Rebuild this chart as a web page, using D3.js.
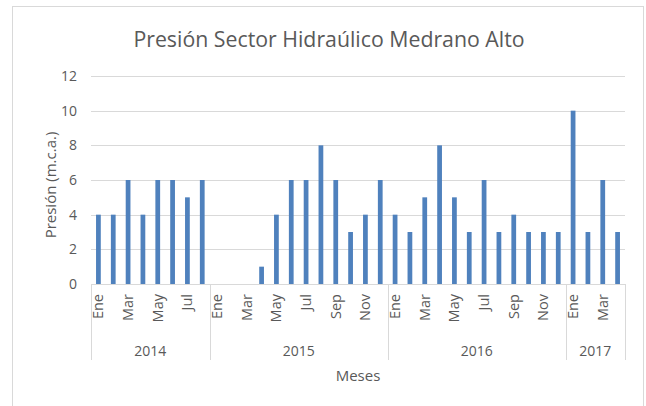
<!DOCTYPE html>
<html>
<head>
<meta charset="utf-8">
<script src="https://cdn.jsdelivr.net/npm/d3@7"></script>
<style>
  body { margin: 0; background: #fff; }
  svg { display: block; font-family: 'Open Sans', sans-serif; }
  .tick-label, .month, .year, .axis-title, .title { fill: #595959; }
</style>
</head>
<body>
<svg width="646" height="406"></svg>
<script>
(function () {

const years = ['2014', '2015', '2016', '2017'];
const monthNames = ['Ene', 'Feb', 'Mar', 'Abr', 'May', 'Jun', 'Jul', 'Ago', 'Sep', 'Oct', 'Nov', 'Dic'];
const presion2014 = [4, 4, 6, 4, 6, 6, 5, 6];
const presion2015 = [0, 0, 0, 1, 4, 6, 6, 8, 6, 3, 4, 6];
const presion2016 = [4, 3, 5, 8, 5, 3, 6, 3, 4, 3, 3, 3];
const presion2017 = [10, 3, 6, 3];
const yTicks = [0, 2, 4, 6, 8, 10, 12];

const barColor = '#4f81bd',
    gridColor = '#d9d9d9';

// flatten into one row per month
const series = [presion2014, presion2015, presion2016, presion2017];
const data = [];
series.forEach(function(vals, yi) {
  vals.forEach(function(v, mi) {
    data.push({id: data.length, year: years[yi], month: monthNames[mi], value: v});
  });
});

const svg = d3.select('svg'),
    margin = {top: 76, right: 21, bottom: 122, left: 91},
    width = +svg.attr('width') - margin.left - margin.right,
    height = +svg.attr('height') - margin.top - margin.bottom;

// chart frame
svg.append('rect')
    .attr('x', 12.5)
    .attr('y', 6.5)
    .attr('width', 631)
    .attr('height', 420)
    .attr('fill', '#fff')
    .attr('stroke', gridColor);

svg.append('text')
    .attr('class', 'title')
    .attr('x', 329)
    .attr('y', 47)
    .attr('text-anchor', 'middle')
    .style('font-size', '21.3px')
    .text('Presión Sector Hidraúlico Medrano Alto');

const g = svg.append('g')
    .attr('transform', 'translate(' + margin.left + ',' + margin.top + ')');

const x = d3.scaleBand()
    .domain(data.map(function(d) { return d.id; }))
    .range([0, width])
    .paddingInner(0.68)
    .paddingOuter(0.34);

const y = d3.scaleLinear()
    .domain([0, 12])
    .range([height, 0]);

const slotLeft = function(i) { return x(i) - x.step() * x.paddingOuter(); };

// gridlines
g.selectAll('.grid')
    .data(yTicks)
  .enter().append('line')
    .attr('class', 'grid')
    .attr('x1', 0)
    .attr('x2', width)
    .attr('y1', function(d) { return Math.round(y(d)) + 0.5; })
    .attr('y2', function(d) { return Math.round(y(d)) + 0.5; })
    .attr('stroke', gridColor);

g.selectAll('.tick-label')
    .data(yTicks)
  .enter().append('text')
    .attr('class', 'tick-label')
    .attr('x', -14)
    .attr('y', function(d) { return y(d) + 5; })
    .attr('text-anchor', 'end')
    .style('font-size', '14px')
    .text(function(d) { return d; });

g.selectAll('.bar')
    .data(data)
  .enter().append('rect')
    .attr('class', 'bar')
    .attr('x', function(d) { return x(d.id); })
    .attr('width', x.bandwidth())
    .attr('y', function(d) { return y(d.value); })
    .attr('height', function(d) { return y(0) - y(d.value); })
    .attr('fill', barColor);

// multi-level category axis
let start = 0;
const groups = years.map(function(yr, i) {
  const grp = {year: yr, first: start, last: start + series[i].length - 1};
  start += series[i].length;
  return grp;
});

const bounds = groups.map(function(gp) { return slotLeft(gp.first); }).concat([width]);

g.selectAll('.divider')
    .data(bounds)
  .enter().append('line')
    .attr('class', 'divider')
    .attr('x1', function(d) { return Math.round(d) + 0.5; })
    .attr('x2', function(d) { return Math.round(d) + 0.5; })
    .attr('y1', height)
    .attr('y2', height + 76)
    .attr('stroke', gridColor);

g.selectAll('.month')
    .data(data.filter(function(d) { return d.id % 2 === 0; }))
  .enter().append('text')
    .attr('class', 'month')
    .attr('transform', function(d) {
      return 'translate(' + (x(d.id) + x.bandwidth() / 2 + 5) + ',' + (height + 10) + ') rotate(-90)';
    })
    .attr('text-anchor', 'end')
    .style('font-size', '14.5px')
    .text(function(d) { return d.month; });

g.selectAll('.year')
    .data(groups)
  .enter().append('text')
    .attr('class', 'year')
    .attr('x', function(d, i) { return (bounds[i] + bounds[i + 1]) / 2; })
    .attr('y', height + 72)
    .attr('text-anchor', 'middle')
    .style('font-size', '14px')
    .text(function(d) { return d.year; });

// axis titles
svg.append('text')
    .attr('class', 'axis-title')
    .attr('x', 358)
    .attr('y', 381)
    .attr('text-anchor', 'middle')
    .style('font-size', '15px')
    .text('Meses');

svg.append('text')
    .attr('class', 'axis-title')
    .attr('transform', 'translate(56,185) rotate(-90)')
    .attr('text-anchor', 'middle')
    .style('font-size', '15px')
    .text('Presión (m.c.a.)');

})();
</script>
</body>
</html>
